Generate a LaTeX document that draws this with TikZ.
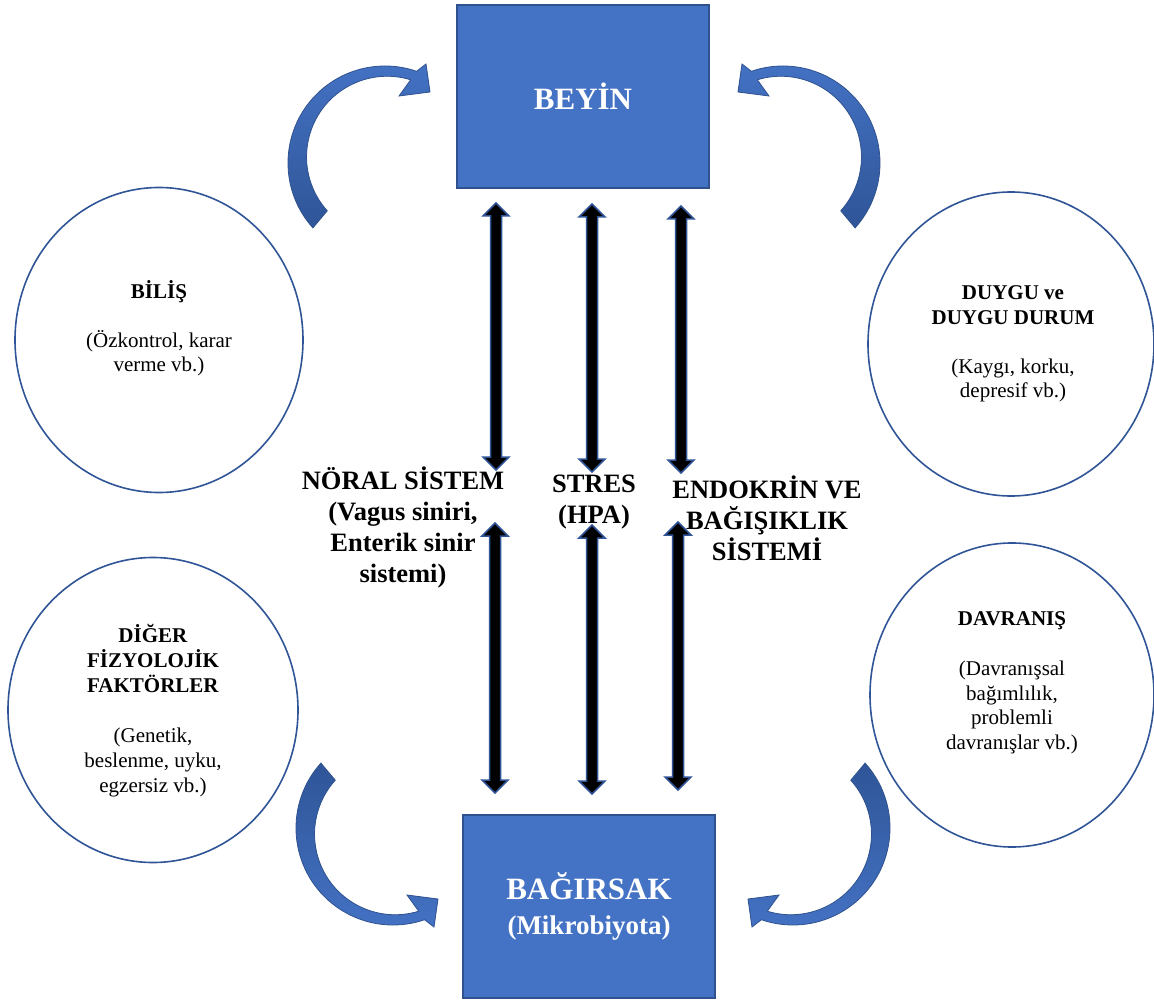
\documentclass[tikz,border=0pt]{standalone}
\usepackage{fontspec}
\setmainfont{Liberation Serif}
\usetikzlibrary{shapes.geometric,calc}
\definecolor{boxblue}{HTML}{4472C4}
\definecolor{darkblue}{HTML}{2F5597}
\definecolor{edgeblue}{HTML}{2F528F}
\newcommand\curvedarrowshape{(138:97) arc[start angle=138, end angle=289, radius=97] -- (41,-99) -- (45,-71) -- (14,-67) -- (25.7,-83.2) arc[start angle=287, end angle=138, radius=80.6] -- cycle}
\newcommand\mydblarrow[2]{\filldraw[dblarr] (#1) -- ($(#1)+(13,13)$) -- ($(#1)+(5.5,13)$) -- ($(#2)+(5.5,-13)$) -- ($(#2)+(13,-13)$) -- (#2) -- ($(#2)+(-13,-13)$) -- ($(#2)+(-5.5,-13)$) -- ($(#1)+(-5.5,13)$) -- ($(#1)+(-13,13)$) -- cycle;}
\begin{document}
\begin{tikzpicture}[x=1pt,y=-1pt,
  bluebox/.style={draw=edgeblue, line width=2pt, fill=boxblue, text=white, align=center, minimum width=252pt, minimum height=183pt, inner sep=0pt},
  circ/.style={ellipse, draw=darkblue, line width=1.6pt, fill=white, inner sep=0pt},
  circtext/.style={align=center, font=\fontsize{21}{24.5}\selectfont, inner sep=0pt},
  midlabel/.style={align=center, font=\bfseries\fontsize{26.5}{31}\selectfont, inner sep=0pt},
  dblarr/.style={fill=black, draw=darkblue, line width=1.5pt, line join=miter},
  carrow/.style={draw=edgeblue, line width=0.8pt}
]
\useasboundingbox (0,0) rectangle (1154,1000);

% boxes
\node[bluebox, font=\bfseries\fontsize{31}{35}\selectfont] (beyin) at (583,96.5) {BEYİN};
\node[bluebox, font=\bfseries\fontsize{31}{35}\selectfont] (bagirsak) at (589,906.5) {BAĞIRSAK\\{\fontsize{27}{35}\selectfont(Mikrobiyota)}};

% ellipses
\node[circ, minimum width=288pt, minimum height=305pt] (bilis) at (159,340) {};
\node[circtext] (bilist) at (159,328) {\textbf{BİLİŞ}\\[24.5pt](Özkontrol, karar\\verme vb.)};

\node[circ, minimum width=290pt, minimum height=305pt] (diger) at (153,710) {};
\node[circtext, font=\fontsize{21}{25}\selectfont] (digert) at (153,711) {\textbf{DİĞER}\\\textbf{FİZYOLOJİK}\\\textbf{FAKTÖRLER}\\[25pt](Genetik,\\beslenme, uyku,\\egzersiz vb.)};

\node[circ, minimum width=286pt, minimum height=304pt] (duygu) at (1011,344) {};
\node[circtext] (duygut) at (1013,344) {\textbf{DUYGU ve}\\\textbf{DUYGU DURUM}\\[24.5pt](Kaygı, korku,\\depresif vb.)};

\node[circ, minimum width=284pt, minimum height=304pt] (davranis) at (1012,695) {};
\node[circtext, font=\fontsize{21}{24.7}\selectfont] (davranist) at (1012,683) {\textbf{DAVRANIŞ}\\[24.7pt](Davranışsal\\bağımlılık,\\problemli\\davranışlar vb.)};

% curved arrows
\begin{scope}[shift={(385,163)}]
  \shadedraw[carrow, top color=boxblue, bottom color=darkblue] \curvedarrowshape;
\end{scope}
\begin{scope}[shift={(783,163)}, xscale=-1]
  \shadedraw[carrow, top color=boxblue, bottom color=darkblue] \curvedarrowshape;
\end{scope}
\begin{scope}[shift={(393,828)}, yscale=-1]
  \shadedraw[carrow, top color=darkblue, bottom color=boxblue] \curvedarrowshape;
\end{scope}
\begin{scope}[shift={(793,828)}, xscale=-1, yscale=-1]
  \shadedraw[carrow, top color=darkblue, bottom color=boxblue] \curvedarrowshape;
\end{scope}

% straight double arrows
\coordinate (a1t) at (496,203); \coordinate (a1m) at (496,470);
\coordinate (b1t) at (495,523); \coordinate (b1m) at (495,793);
\coordinate (a2t) at (592,204); \coordinate (a2m) at (592,472);
\coordinate (b2t) at (592,525); \coordinate (b2m) at (592,794);
\coordinate (a3t) at (681,206); \coordinate (a3m) at (681,473);
\coordinate (b3t) at (678,522); \coordinate (b3m) at (678,790);
\mydblarrow{a1t}{a1m}
\mydblarrow{b1t}{b1m}
\mydblarrow{a2t}{a2m}
\mydblarrow{b2t}{b2m}
\mydblarrow{a3t}{a3m}
\mydblarrow{b3t}{b3m}

% middle labels
\node[midlabel] (noral) at (403,527) {NÖRAL SİSTEM\\(Vagus siniri,\\Enterik sinir\\sistemi)};
\node[midlabel] (stres) at (594,502) {STRES\\(HPA)};
\node[midlabel] (endo) at (767,518) {ENDOKRİN VE\\BAĞIŞIKLIK\\SİSTEMİ};
\end{tikzpicture}
\end{document}
